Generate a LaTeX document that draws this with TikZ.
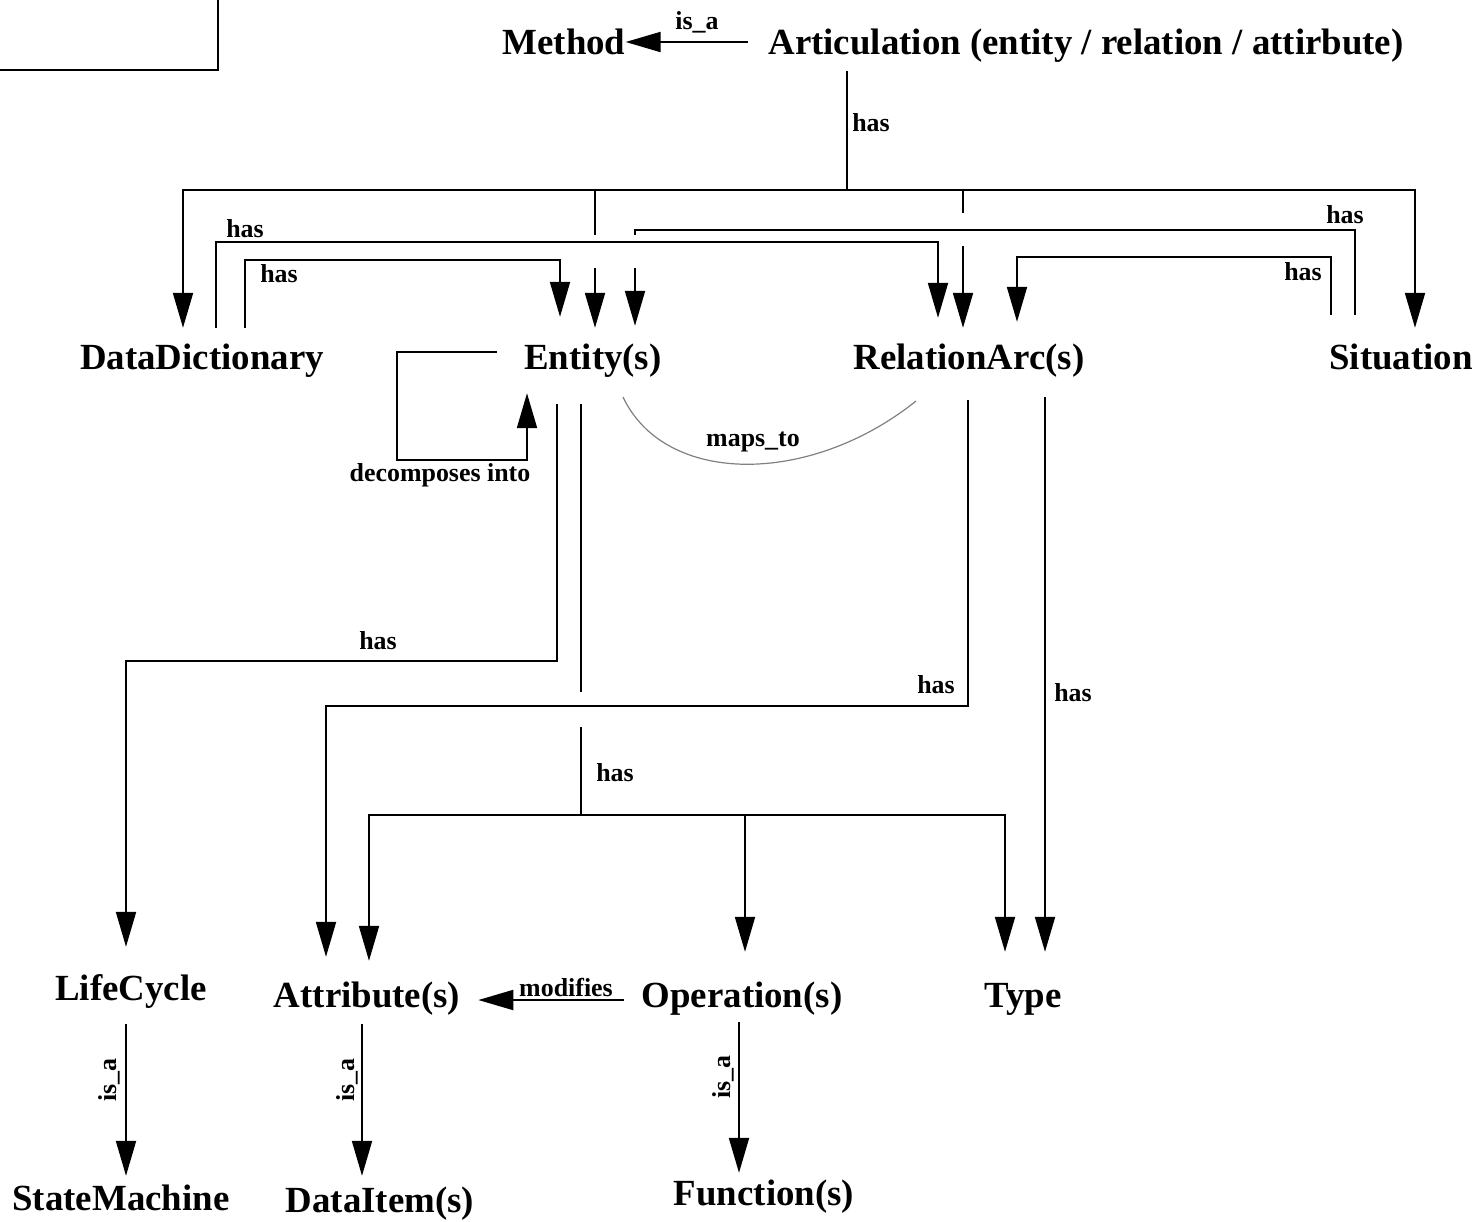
\documentclass[tikz,border=0pt]{standalone}
\usepackage{fontspec}
\setmainfont{Liberation Serif}
\usetikzlibrary{arrows.meta,calc}
\begin{document}
\begin{tikzpicture}[x=1bp,y=-1bp,
  concept/.style={font=\fontsize{37}{44}\selectfont\bfseries, inner sep=0pt,
    text height=30bp, text depth=6bp, minimum height=58bp},
  lbl/.style={font=\fontsize{26}{30}\selectfont\bfseries, inner sep=0pt},
  link/.style={line width=2bp},
  arr/.style={link, -{Triangle[length=35bp,width=20bp]}},
  mapline/.style={line width=1.2bp, draw=black!50},
]
\useasboundingbox (0,0) rectangle (1482,1221);

% corner frame
\draw[line width=2.5bp] (-5,70) -- (218,70) -- (218,-5);

% concepts
\node[concept] (meth)  at (564,42)   {Method};
\node[concept] (art)   at (1086,42)  {Articulation (entity / relation / attirbute)};
\node[concept] (dd)    at (202,357)  {DataDictionary};
\node[concept] (ent)   at (593,357)  {Entity(s)};
\node[concept] (rarc)  at (969,357)  {RelationArc(s)};
\node[concept] (sit)   at (1401,357) {Situation};
\node[concept] (life)  at (131,988)  {LifeCycle};
\node[concept] (attr)  at (367,995)  {Attribute(s)};
\node[concept] (oper)  at (742,995)  {Operation(s)};
\node[concept] (typ)   at (1023,995) {Type};
\node[concept] (sm)    at (121,1198) {StateMachine};
\node[concept] (ditem) at (380,1200) {DataItem(s)};
\node[concept] (func)  at (764,1193) {Function(s)};

% Articulation is_a Method
\draw[arr] (art.west) ++(-20,0) -- (meth.east);
\node[lbl] (lisa) at (697,22) {is\_a};

% Articulation has ...
\coordinate (hub) at (847,190);
\draw[link] (art.south -| hub) -- (hub);
\node[lbl] (lhas0) at (871,123) {has};
\draw[arr] (hub) -| (dd.north -| 183,0);
\draw[arr] (hub) -| (sit.north -| 1415,0);
\draw[link] (595,190) -- (595,235);
\draw[arr] (595,268) -- (ent.north -| 595,0);
\draw[link] (963,190) -- (963,213);
\draw[arr] (963,246) -- (rarc.north -| 963,0);

% DataDictionary has ...
\draw[arr] (dd.north -| 245,0) |- (560,260) -- ($(ent.north -| 560,0)+(0,-11)$);
\draw[arr] (dd.north -| 216,0) |- (938,242) -- ($(rarc.north -| 938,0)+(0,-10)$);
\node[lbl] (lhas1) at (245,229) {has};
\node[lbl] (lhas2) at (279,274) {has};

% Situation has ...
\draw[link] ($(sit.north -| 1355,0)+(0,-13)$) |- (635,230) -- (635,235);
\draw[arr] (635,268) -- ($(ent.north -| 635,0)+(0,-2)$);
\draw[arr] ($(sit.north -| 1331,0)+(0,-13)$) |- (1017,257) -- ($(rarc.north -| 1017,0)+(0,-6)$);
\node[lbl] (lhas3) at (1345,215) {has};
\node[lbl] (lhas4) at (1303,272) {has};

% Entity decomposes into Entity
\draw[arr] ($(ent.west)+(-27,-5)$) -| (397,460) -| ($(ent.south -| 527,0)+(0,7)$);
\node[lbl] (ldec) at (440,475) {decomposes into};

% Entity maps_to RelationArc
\draw[mapline] (623,397) .. controls (665,486) and (810,486) .. (916,401);
\node[lbl] (lmap) at (753,442) {maps\_to};

% Entity has LifeCycle
\draw[arr] ($(ent.south -| 557,0)+(0,18)$) |- (126,661) -- ($(life.north -| 126,0)+(0,-12)$);
\node[lbl] (lhas5) at (378,641) {has};

% Entity has Attribute / Operation / Type
\draw[link] ($(ent.south -| 581,0)+(0,18)$) -- (581,692);
\coordinate (fork) at (581,815);
\draw[link] (581,727) -- (fork);
\draw[arr] (fork) -| ($(attr.north -| 369,0)+(0,-5)$);
\draw[arr] (fork) -| ($(oper.north -| 745,0)+(0,-14)$);
\draw[arr] (fork) -| ($(typ.north -| 1005,0)+(0,-14)$);
\node[lbl] (lhas6) at (615,773) {has};

% RelationArc has Attribute / Type
\draw[arr] ($(rarc.south -| 968,0)+(0,14)$) |- (326,706) -- ($(attr.north -| 326,0)+(0,-9)$);
\draw[arr] ($(rarc.south -| 1045,0)+(0,11)$) -- ($(typ.north -| 1045,0)+(0,-14)$);
\node[lbl] (lhas7) at (936,685) {has};
\node[lbl] (lhas8) at (1073,693) {has};

% Operation modifies Attribute
\draw[arr] ($(oper.west)+(-17,5)$) -- ($(attr.east)+(18,5)$);
\node[lbl] (lmod) at (566,987) {modifies};

% is_a specialisations
\draw[arr] ($(life.south -| 126,0)+(0,7)$) -- ($(sm.north -| 126,0)+(0,7)$);
\draw[arr] (attr.south -| 362,0) -- ($(ditem.north -| 362,0)+(0,5)$);
\draw[arr] ($(oper.south -| 739,0)+(0,-2)$) -- ($(func.north -| 739,0)+(0,9)$);
\node[lbl, rotate=90] (lisa1) at (109,1080) {is\_a};
\node[lbl, rotate=90] (lisa2) at (347,1080) {is\_a};
\node[lbl, rotate=90] (lisa3) at (723,1077) {is\_a};
\end{tikzpicture}
\end{document}
